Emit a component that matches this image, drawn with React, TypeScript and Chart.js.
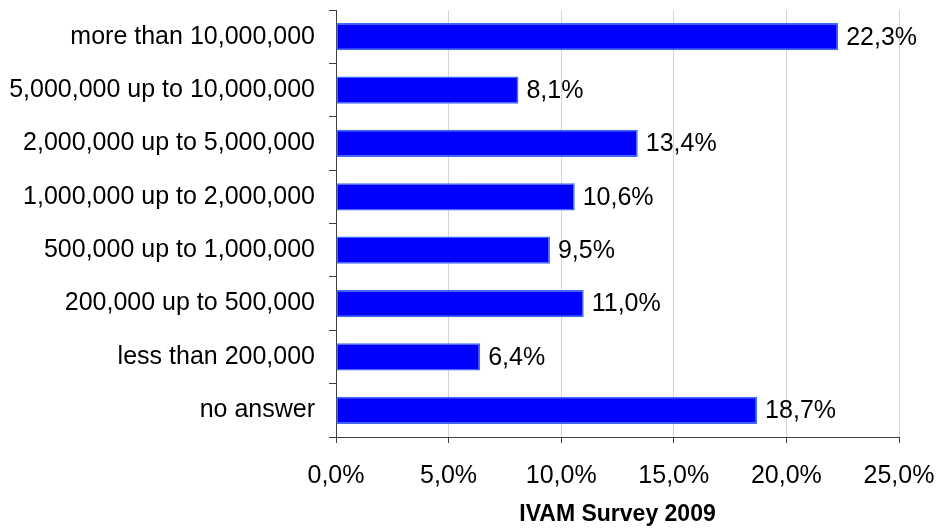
import React, { useEffect, useRef } from "react";
import { Chart, registerables } from "chart.js";

Chart.register(...registerables);

const categories = [
  "more than 10,000,000",
  "5,000,000 up to 10,000,000",
  "2,000,000 up to 5,000,000",
  "1,000,000 up to 2,000,000",
  "500,000 up to 1,000,000",
  "200,000 up to 500,000",
  "less than 200,000",
  "no answer",
];
const values = [22.3, 8.1, 13.4, 10.6, 9.5, 11.0, 6.4, 18.7];
const axisTitle = "IVAM Survey 2009";

const fmt = (v: number) => v.toFixed(1).replace(".", ",") + "%";
const FONT = "'Liberation Sans', Arial, Helvetica, sans-serif";

const valueLabels = {
  id: "valueLabels",
  afterDatasetsDraw(chart: any) {
    const { ctx } = chart;
    const meta = chart.getDatasetMeta(0);
    ctx.save();
    ctx.font = `25px ${FONT}`;
    ctx.fillStyle = "#000";
    ctx.textAlign = "left";
    ctx.textBaseline = "middle";
    meta.data.forEach((bar: any, i: number) => {
      ctx.fillText(fmt(values[i]), bar.x + 8, bar.y + 1);
    });
    ctx.restore();
  },
};

export default function App() {
  const ref = useRef<HTMLCanvasElement | null>(null);
  useEffect(() => {
    if (!ref.current) return;
    const chart = new Chart(ref.current, {
      type: "bar",
      data: {
        labels: categories,
        datasets: [
          {
            data: values,
            backgroundColor: "#0000ff",
            borderColor: "#3d6bff",
            borderWidth: 1.5,
            borderSkipped: false,
            categoryPercentage: 1,
            barPercentage: 0.51,
          },
        ],
      },
      options: {
        indexAxis: "y",
        animation: false,
        responsive: false,
        maintainAspectRatio: false,
        layout: { padding: { top: 10, right: 41, left: 0, bottom: 0 } },
        plugins: {
          legend: { display: false },
          tooltip: { enabled: false },
        },
        scales: {
          x: {
            min: 0,
            max: 25,
            ticks: {
              stepSize: 5,
              callback: (v: any) => fmt(Number(v)),
              font: { family: FONT, size: 25 },
              color: "#000",
              padding: 18,
              maxRotation: 0,
            },
            grid: {
              color: "#d4d4d4",
              tickColor: "#404040",
              tickLength: 6,
              lineWidth: 1,
            },
            border: { color: "#404040", width: 1 },
            title: {
              display: true,
              text: axisTitle,
              font: { family: FONT, size: 23, weight: "bold" },
              color: "#000",
              padding: { top: 0, bottom: 0 },
            },
            afterFit: (s: any) => {
              s.height = 91;
              s.paddingLeft = 0;
              s.paddingRight = 0;
            },
          },
          y: {
            ticks: {
              font: { family: FONT, size: 25 },
              color: "#000",
              padding: 14,
            },
            grid: {
              offset: true,
              drawOnChartArea: false,
              tickColor: "#404040",
              tickLength: 7,
            },
            border: { color: "#404040", width: 1 },
            afterFit: (s: any) => {
              s.width = 336;
              s.paddingTop = 0;
              s.paddingBottom = 0;
            },
          },
        },
      },
      plugins: [valueLabels],
    });
    return () => chart.destroy();
  }, []);
  return (
    <div style={{ position: "absolute", left: 0, top: 0, width: 940, height: 528, background: "#fff" }}>
      <canvas ref={ref} width={940} height={528} style={{ width: 940, height: 528 }} />
    </div>
  );
}
